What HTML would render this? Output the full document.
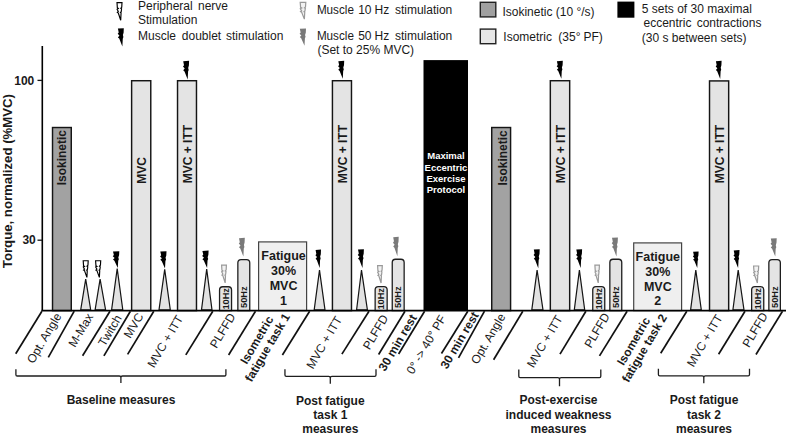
<!DOCTYPE html>
<html><head><meta charset="utf-8"><style>
html,body{margin:0;padding:0;background:#fff;}
svg{display:block;font-family:"Liberation Sans", sans-serif;}
</style></head><body>
<svg width="788" height="435" viewBox="0 0 788 435">
<rect width="788" height="435" fill="#fff"/>
<path d="M0,0 L5.8,0 L5.5,5.0 L4.4,6.0 L5.3,6.6 L4.9,9.6 L4.0,10.4 L4.7,10.9 L4.3,18.5 L1.5,10.9 L0.4,10.3 L1.5,9.3 L0.1,7.0 L1.6,6.2 L0.4,5.4 Z" transform="translate(117.00,2.60) scale(0.862,0.951)" fill="#fff" stroke="#000" stroke-width="1.15" vector-effect="non-scaling-stroke" stroke-linejoin="miter"/>
<text y="10.20" font-size="12" font-weight="400" fill="#1a1a1a"><tspan x="138.00">Peripheral</tspan><tspan x="198.00">nerve</tspan></text>
<text x="138.00" y="24.00" font-size="12" font-weight="400" text-anchor="start" fill="#1a1a1a">Stimulation</text>
<path d="M0,0.4 L5.8,0 L5.6,4.6 L4.9,7.0 L5.4,9.0 L4.8,10.6 L4.4,18.5 L1.3,10.5 L0.0,9.3 L1.5,7.5 L-0.2,5.7 L0.8,4.3 Z" transform="translate(117.90,28.20) scale(1.017,0.989)" fill="#000"/>
<text y="40.00" font-size="12" font-weight="400" fill="#1a1a1a"><tspan x="138.00">Muscle</tspan><tspan x="181.80">doublet</tspan><tspan x="226.00">stimulation</tspan></text>
<path d="M0,0 L5.8,0 L5.5,5.0 L4.4,6.0 L5.3,6.6 L4.9,9.6 L4.0,10.4 L4.7,10.9 L4.3,18.5 L1.5,10.9 L0.4,10.3 L1.5,9.3 L0.1,7.0 L1.6,6.2 L0.4,5.4 Z" transform="translate(300.20,2.40) scale(0.966,0.903)" fill="#f2f2f2" stroke="#999" stroke-width="1.2" vector-effect="non-scaling-stroke"/>
<text y="13.70" font-size="12" font-weight="400" fill="#1a1a1a"><tspan x="316.90" textLength="37.0" lengthAdjust="spacingAndGlyphs">Muscle</tspan><tspan x="358.20">10</tspan><tspan x="374.60">Hz</tspan><tspan x="394.90">stimulation</tspan></text>
<path d="M0,0.4 L5.8,0 L5.6,4.6 L4.9,7.0 L5.4,9.0 L4.8,10.6 L4.4,18.5 L1.3,10.5 L0.0,9.3 L1.5,7.5 L-0.2,5.7 L0.8,4.3 Z" transform="translate(299.80,28.40) scale(1.069,0.935)" fill="#7a7a7a"/>
<text y="40.10" font-size="12" font-weight="400" fill="#1a1a1a"><tspan x="316.90" textLength="37.0" lengthAdjust="spacingAndGlyphs">Muscle</tspan><tspan x="358.20">50</tspan><tspan x="374.60">Hz</tspan><tspan x="394.90">stimulation</tspan></text>
<text x="317.40" y="54.40" font-size="12" font-weight="400" text-anchor="start" fill="#1a1a1a">(Set to 25% MVC)</text>
<rect x="480.3" y="2.3" width="15.5" height="14.6" fill="#a0a0a0" stroke="#222" stroke-width="1.4"/>
<text x="502.40" y="16.10" font-size="12" font-weight="400" text-anchor="start" fill="#1a1a1a">Isokinetic (10 °/s)</text>
<rect x="480.3" y="29.1" width="15.5" height="14.6" fill="#e6e6e6" stroke="#222" stroke-width="1.4"/>
<text y="40.80" font-size="12" font-weight="400" fill="#1a1a1a"><tspan x="503.30">Isometric</tspan><tspan x="558.30">(35°</tspan><tspan x="583.40">PF)</tspan></text>
<rect x="617.4" y="1.6" width="17" height="16.1" fill="#000"/>
<text x="641.80" y="12.60" font-size="12" font-weight="400" text-anchor="start" fill="#1a1a1a">5 sets of 30 maximal</text>
<text y="27.20" font-size="12" font-weight="400" fill="#1a1a1a"><tspan x="643.50">eccentric</tspan><tspan x="696.70">contractions</tspan></text>
<text x="641.80" y="41.60" font-size="12" font-weight="400" text-anchor="start" fill="#1a1a1a">(30 s between sets)</text>
<line x1="42.30" y1="45.90" x2="42.30" y2="311.00" stroke="#000" stroke-width="1.6"/>
<line x1="37.50" y1="80.40" x2="42.10" y2="80.40" stroke="#151515" stroke-width="1.3"/>
<line x1="37.50" y1="240.20" x2="42.10" y2="240.20" stroke="#151515" stroke-width="1.3"/>
<text x="34.30" y="85.00" font-size="12" font-weight="700" text-anchor="end" fill="#1a1a1a">100</text>
<text x="35.80" y="243.80" font-size="12" font-weight="700" text-anchor="end" fill="#1a1a1a">30</text>
<text x="11.60" y="181.10" font-size="13.2" font-weight="700" text-anchor="middle" fill="#1a1a1a" transform="rotate(-90 11.60 181.10)">Torque, normalized (%MVC)</text>
<rect x="52.52" y="127.52" width="18.75" height="183.08" fill="#a2a2a2" stroke="#151515" stroke-width="1.45"/>
<rect x="131.62" y="80.72" width="19.15" height="229.88" fill="#e4e4e4" stroke="#151515" stroke-width="1.45"/>
<rect x="177.53" y="80.72" width="18.95" height="229.88" fill="#e4e4e4" stroke="#151515" stroke-width="1.45"/>
<rect x="332.43" y="80.72" width="19.05" height="229.88" fill="#e4e4e4" stroke="#151515" stroke-width="1.45"/>
<rect x="423.5" y="60.1" width="44.5" height="250.50" fill="#000"/>
<rect x="491.73" y="127.52" width="18.85" height="183.08" fill="#a2a2a2" stroke="#151515" stroke-width="1.45"/>
<rect x="550.33" y="80.72" width="19.35" height="229.88" fill="#e4e4e4" stroke="#151515" stroke-width="1.45"/>
<rect x="709.52" y="80.92" width="19.15" height="229.68" fill="#e4e4e4" stroke="#151515" stroke-width="1.45"/>
<rect x="258.60" y="241.90" width="48.00" height="68.70" fill="#efefef" stroke="#444" stroke-width="1.2"/>
<rect x="633.70" y="242.90" width="47.90" height="67.70" fill="#efefef" stroke="#444" stroke-width="1.2"/>
<path d="M219.55,310.6 L219.55,289.95 Q219.55,286.75 222.75,286.75 L228.35,286.75 Q231.55,286.75 231.55,289.95 L231.55,310.6 Z" fill="#e4e4e4" stroke="#1e1e1e" stroke-width="1.3"/>
<path d="M375.15,310.6 L375.15,289.85 Q375.15,286.65 378.35,286.65 L383.95,286.65 Q387.15,286.65 387.15,289.85 L387.15,310.6 Z" fill="#e4e4e4" stroke="#1e1e1e" stroke-width="1.3"/>
<path d="M592.75,310.6 L592.75,289.85 Q592.75,286.65 595.95,286.65 L601.55,286.65 Q604.75,286.65 604.75,289.85 L604.75,310.6 Z" fill="#e4e4e4" stroke="#1e1e1e" stroke-width="1.3"/>
<path d="M751.65,310.6 L751.65,289.85 Q751.65,286.65 754.85,286.65 L760.55,286.65 Q763.75,286.65 763.75,289.85 L763.75,310.6 Z" fill="#e4e4e4" stroke="#1e1e1e" stroke-width="1.3"/>
<path d="M237.85,310.6 L237.85,262.85 Q237.85,259.65 241.05,259.65 L246.55,259.65 Q249.75,259.65 249.75,262.85 L249.75,310.6 Z" fill="#e4e4e4" stroke="#1e1e1e" stroke-width="1.3"/>
<path d="M392.25,310.6 L392.25,262.45 Q392.25,259.25 395.45,259.25 L400.95,259.25 Q404.15,259.25 404.15,262.45 L404.15,310.6 Z" fill="#e4e4e4" stroke="#1e1e1e" stroke-width="1.3"/>
<path d="M609.85,310.6 L609.85,262.45 Q609.85,259.25 613.05,259.25 L618.55,259.25 Q621.75,259.25 621.75,262.45 L621.75,310.6 Z" fill="#e4e4e4" stroke="#1e1e1e" stroke-width="1.3"/>
<path d="M768.85,310.6 L768.85,262.85 Q768.85,259.65 772.05,259.65 L777.15,259.65 Q780.35,259.65 780.35,262.85 L780.35,310.6 Z" fill="#e4e4e4" stroke="#1e1e1e" stroke-width="1.3"/>
<path d="M80.70,309.8 L85.70,279.10 L90.70,309.8 Z" fill="#e2e2e2" stroke="#151515" stroke-width="1.2" stroke-linejoin="miter"/>
<path d="M95.10,309.8 L100.10,279.10 L105.60,309.8 Z" fill="#e2e2e2" stroke="#151515" stroke-width="1.2" stroke-linejoin="miter"/>
<path d="M111.60,309.8 L117.20,268.70 L122.80,309.8 Z" fill="#e2e2e2" stroke="#151515" stroke-width="1.2" stroke-linejoin="miter"/>
<path d="M159.00,309.8 L164.70,269.30 L170.30,309.8 Z" fill="#e2e2e2" stroke="#151515" stroke-width="1.2" stroke-linejoin="miter"/>
<path d="M201.50,309.8 L206.70,269.10 L212.00,309.8 Z" fill="#e2e2e2" stroke="#151515" stroke-width="1.2" stroke-linejoin="miter"/>
<path d="M314.20,309.8 L319.50,270.10 L325.00,309.8 Z" fill="#e2e2e2" stroke="#151515" stroke-width="1.2" stroke-linejoin="miter"/>
<path d="M356.60,309.8 L361.50,270.10 L367.40,309.8 Z" fill="#e2e2e2" stroke="#151515" stroke-width="1.2" stroke-linejoin="miter"/>
<path d="M531.80,309.8 L537.10,270.10 L543.00,309.8 Z" fill="#e2e2e2" stroke="#151515" stroke-width="1.2" stroke-linejoin="miter"/>
<path d="M574.30,309.8 L579.40,270.10 L584.70,309.8 Z" fill="#e2e2e2" stroke="#151515" stroke-width="1.2" stroke-linejoin="miter"/>
<path d="M690.60,309.8 L695.80,270.10 L701.30,309.8 Z" fill="#e2e2e2" stroke="#151515" stroke-width="1.2" stroke-linejoin="miter"/>
<path d="M732.90,309.8 L738.20,270.10 L744.00,309.8 Z" fill="#e2e2e2" stroke="#151515" stroke-width="1.2" stroke-linejoin="miter"/>
<line x1="41.50" y1="310.60" x2="786.00" y2="310.60" stroke="#000" stroke-width="1.9"/>
<path d="M0,0 L5.8,0 L5.5,5.0 L4.4,6.0 L5.3,6.6 L4.9,9.6 L4.0,10.4 L4.7,10.9 L4.3,18.5 L1.5,10.9 L0.4,10.3 L1.5,9.3 L0.1,7.0 L1.6,6.2 L0.4,5.4 Z" transform="translate(83.20,260.80) scale(0.862,0.897)" fill="#fff" stroke="#000" stroke-width="1.15" vector-effect="non-scaling-stroke" stroke-linejoin="miter"/>
<path d="M0,0 L5.8,0 L5.5,5.0 L4.4,6.0 L5.3,6.6 L4.9,9.6 L4.0,10.4 L4.7,10.9 L4.3,18.5 L1.5,10.9 L0.4,10.3 L1.5,9.3 L0.1,7.0 L1.6,6.2 L0.4,5.4 Z" transform="translate(95.60,260.80) scale(0.879,0.897)" fill="#fff" stroke="#000" stroke-width="1.15" vector-effect="non-scaling-stroke" stroke-linejoin="miter"/>
<path d="M0,0.4 L5.8,0 L5.6,4.6 L4.9,7.0 L5.4,9.0 L4.8,10.6 L4.4,18.5 L1.3,10.5 L0.0,9.3 L1.5,7.5 L-0.2,5.7 L0.8,4.3 Z" transform="translate(113.00,251.20) scale(1.086,0.903)" fill="#000"/>
<path d="M0,0.4 L5.8,0 L5.6,4.6 L4.9,7.0 L5.4,9.0 L4.8,10.6 L4.4,18.5 L1.3,10.5 L0.0,9.3 L1.5,7.5 L-0.2,5.7 L0.8,4.3 Z" transform="translate(160.30,251.20) scale(1.069,0.930)" fill="#000"/>
<path d="M0,0.4 L5.8,0 L5.6,4.6 L4.9,7.0 L5.4,9.0 L4.8,10.6 L4.4,18.5 L1.3,10.5 L0.0,9.3 L1.5,7.5 L-0.2,5.7 L0.8,4.3 Z" transform="translate(183.20,60.80) scale(1.017,1.016)" fill="#000"/>
<path d="M0,0.4 L5.8,0 L5.6,4.6 L4.9,7.0 L5.4,9.0 L4.8,10.6 L4.4,18.5 L1.3,10.5 L0.0,9.3 L1.5,7.5 L-0.2,5.7 L0.8,4.3 Z" transform="translate(202.40,250.50) scale(1.069,0.951)" fill="#000"/>
<path d="M0,0 L5.8,0 L5.5,5.0 L4.4,6.0 L5.3,6.6 L4.9,9.6 L4.0,10.4 L4.7,10.9 L4.3,18.5 L1.5,10.9 L0.4,10.3 L1.5,9.3 L0.1,7.0 L1.6,6.2 L0.4,5.4 Z" transform="translate(221.60,265.10) scale(0.828,0.962)" fill="#f2f2f2" stroke="#999" stroke-width="1.2" vector-effect="non-scaling-stroke"/>
<path d="M0,0.4 L5.8,0 L5.6,4.6 L4.9,7.0 L5.4,9.0 L4.8,10.6 L4.4,18.5 L1.3,10.5 L0.0,9.3 L1.5,7.5 L-0.2,5.7 L0.8,4.3 Z" transform="translate(239.00,237.80) scale(1.000,1.016)" fill="#7a7a7a"/>
<path d="M0,0.4 L5.8,0 L5.6,4.6 L4.9,7.0 L5.4,9.0 L4.8,10.6 L4.4,18.5 L1.3,10.5 L0.0,9.3 L1.5,7.5 L-0.2,5.7 L0.8,4.3 Z" transform="translate(315.60,249.60) scale(0.931,0.995)" fill="#000"/>
<path d="M0,0.4 L5.8,0 L5.6,4.6 L4.9,7.0 L5.4,9.0 L4.8,10.6 L4.4,18.5 L1.3,10.5 L0.0,9.3 L1.5,7.5 L-0.2,5.7 L0.8,4.3 Z" transform="translate(338.30,60.80) scale(1.017,0.968)" fill="#000"/>
<path d="M0,0.4 L5.8,0 L5.6,4.6 L4.9,7.0 L5.4,9.0 L4.8,10.6 L4.4,18.5 L1.3,10.5 L0.0,9.3 L1.5,7.5 L-0.2,5.7 L0.8,4.3 Z" transform="translate(358.00,249.20) scale(1.017,1.016)" fill="#000"/>
<path d="M0,0 L5.8,0 L5.5,5.0 L4.4,6.0 L5.3,6.6 L4.9,9.6 L4.0,10.4 L4.7,10.9 L4.3,18.5 L1.5,10.9 L0.4,10.3 L1.5,9.3 L0.1,7.0 L1.6,6.2 L0.4,5.4 Z" transform="translate(377.60,265.60) scale(0.810,0.941)" fill="#f2f2f2" stroke="#999" stroke-width="1.2" vector-effect="non-scaling-stroke"/>
<path d="M0,0.4 L5.8,0 L5.6,4.6 L4.9,7.0 L5.4,9.0 L4.8,10.6 L4.4,18.5 L1.3,10.5 L0.0,9.3 L1.5,7.5 L-0.2,5.7 L0.8,4.3 Z" transform="translate(393.20,236.80) scale(0.948,1.049)" fill="#7a7a7a"/>
<path d="M0,0.4 L5.8,0 L5.6,4.6 L4.9,7.0 L5.4,9.0 L4.8,10.6 L4.4,18.5 L1.3,10.5 L0.0,9.3 L1.5,7.5 L-0.2,5.7 L0.8,4.3 Z" transform="translate(533.80,249.20) scale(1.017,1.027)" fill="#000"/>
<path d="M0,0.4 L5.8,0 L5.6,4.6 L4.9,7.0 L5.4,9.0 L4.8,10.6 L4.4,18.5 L1.3,10.5 L0.0,9.3 L1.5,7.5 L-0.2,5.7 L0.8,4.3 Z" transform="translate(556.90,60.80) scale(1.017,0.968)" fill="#000"/>
<path d="M0,0.4 L5.8,0 L5.6,4.6 L4.9,7.0 L5.4,9.0 L4.8,10.6 L4.4,18.5 L1.3,10.5 L0.0,9.3 L1.5,7.5 L-0.2,5.7 L0.8,4.3 Z" transform="translate(576.30,249.20) scale(1.000,1.016)" fill="#000"/>
<path d="M0,0 L5.8,0 L5.5,5.0 L4.4,6.0 L5.3,6.6 L4.9,9.6 L4.0,10.4 L4.7,10.9 L4.3,18.5 L1.5,10.9 L0.4,10.3 L1.5,9.3 L0.1,7.0 L1.6,6.2 L0.4,5.4 Z" transform="translate(594.90,265.20) scale(0.776,0.957)" fill="#f2f2f2" stroke="#999" stroke-width="1.2" vector-effect="non-scaling-stroke"/>
<path d="M0,0.4 L5.8,0 L5.6,4.6 L4.9,7.0 L5.4,9.0 L4.8,10.6 L4.4,18.5 L1.3,10.5 L0.0,9.3 L1.5,7.5 L-0.2,5.7 L0.8,4.3 Z" transform="translate(612.00,237.40) scale(1.017,1.038)" fill="#7a7a7a"/>
<path d="M0,0.4 L5.8,0 L5.6,4.6 L4.9,7.0 L5.4,9.0 L4.8,10.6 L4.4,18.5 L1.3,10.5 L0.0,9.3 L1.5,7.5 L-0.2,5.7 L0.8,4.3 Z" transform="translate(693.10,251.50) scale(0.948,0.892)" fill="#000"/>
<path d="M0,0.4 L5.8,0 L5.6,4.6 L4.9,7.0 L5.4,9.0 L4.8,10.6 L4.4,18.5 L1.3,10.5 L0.0,9.3 L1.5,7.5 L-0.2,5.7 L0.8,4.3 Z" transform="translate(715.90,60.80) scale(0.983,0.989)" fill="#000"/>
<path d="M0,0.4 L5.8,0 L5.6,4.6 L4.9,7.0 L5.4,9.0 L4.8,10.6 L4.4,18.5 L1.3,10.5 L0.0,9.3 L1.5,7.5 L-0.2,5.7 L0.8,4.3 Z" transform="translate(733.70,250.00) scale(1.000,0.973)" fill="#000"/>
<path d="M0,0 L5.8,0 L5.5,5.0 L4.4,6.0 L5.3,6.6 L4.9,9.6 L4.0,10.4 L4.7,10.9 L4.3,18.5 L1.5,10.9 L0.4,10.3 L1.5,9.3 L0.1,7.0 L1.6,6.2 L0.4,5.4 Z" transform="translate(753.60,266.00) scale(0.879,0.919)" fill="#f2f2f2" stroke="#999" stroke-width="1.2" vector-effect="non-scaling-stroke"/>
<path d="M0,0.4 L5.8,0 L5.6,4.6 L4.9,7.0 L5.4,9.0 L4.8,10.6 L4.4,18.5 L1.3,10.5 L0.0,9.3 L1.5,7.5 L-0.2,5.7 L0.8,4.3 Z" transform="translate(770.80,238.20) scale(1.017,0.995)" fill="#7a7a7a"/>
<text x="65.60" y="185.30" font-size="12" font-weight="700" text-anchor="start" fill="#1a1a1a" transform="rotate(-90 65.60 185.30)">Isokinetic</text>
<text x="506.80" y="185.60" font-size="12" font-weight="700" text-anchor="start" fill="#1a1a1a" transform="rotate(-90 506.80 185.60)">Isokinetic</text>
<text x="146.30" y="183.80" font-size="12" font-weight="700" text-anchor="start" fill="#1a1a1a" transform="rotate(-90 146.30 183.80)">MVC</text>
<text x="192.50" y="183.30" font-size="12" font-weight="700" text-anchor="start" fill="#1a1a1a" transform="rotate(-90 192.50 183.30)">MVC + ITT</text>
<text x="347.40" y="183.30" font-size="12" font-weight="700" text-anchor="start" fill="#1a1a1a" transform="rotate(-90 347.40 183.30)">MVC + ITT</text>
<text x="565.30" y="183.30" font-size="12" font-weight="700" text-anchor="start" fill="#1a1a1a" transform="rotate(-90 565.30 183.30)">MVC + ITT</text>
<text x="724.50" y="183.30" font-size="12" font-weight="700" text-anchor="start" fill="#1a1a1a" transform="rotate(-90 724.50 183.30)">MVC + ITT</text>
<text x="228.80" y="309.60" font-size="9.6" font-weight="700" text-anchor="start" fill="#1a1a1a" transform="rotate(-90 228.80 309.60)" textLength="21.6" lengthAdjust="spacingAndGlyphs">10Hz</text>
<text x="384.40" y="309.60" font-size="9.6" font-weight="700" text-anchor="start" fill="#1a1a1a" transform="rotate(-90 384.40 309.60)" textLength="21.6" lengthAdjust="spacingAndGlyphs">10Hz</text>
<text x="602.00" y="309.60" font-size="9.6" font-weight="700" text-anchor="start" fill="#1a1a1a" transform="rotate(-90 602.00 309.60)" textLength="21.6" lengthAdjust="spacingAndGlyphs">10Hz</text>
<text x="760.90" y="309.60" font-size="9.6" font-weight="700" text-anchor="start" fill="#1a1a1a" transform="rotate(-90 760.90 309.60)" textLength="21.6" lengthAdjust="spacingAndGlyphs">10Hz</text>
<text x="246.70" y="308.00" font-size="9.6" font-weight="700" text-anchor="start" fill="#1a1a1a" transform="rotate(-90 246.70 308.00)" textLength="21.6" lengthAdjust="spacingAndGlyphs">50Hz</text>
<text x="401.10" y="308.00" font-size="9.6" font-weight="700" text-anchor="start" fill="#1a1a1a" transform="rotate(-90 401.10 308.00)" textLength="21.6" lengthAdjust="spacingAndGlyphs">50Hz</text>
<text x="618.70" y="308.00" font-size="9.6" font-weight="700" text-anchor="start" fill="#1a1a1a" transform="rotate(-90 618.70 308.00)" textLength="21.6" lengthAdjust="spacingAndGlyphs">50Hz</text>
<text x="777.70" y="308.00" font-size="9.6" font-weight="700" text-anchor="start" fill="#1a1a1a" transform="rotate(-90 777.70 308.00)" textLength="21.6" lengthAdjust="spacingAndGlyphs">50Hz</text>
<text x="446.00" y="159.30" font-size="9.5" font-weight="700" text-anchor="middle" fill="#fff">Maximal</text>
<text x="446.00" y="170.60" font-size="9.5" font-weight="700" text-anchor="middle" fill="#fff">Eccentric</text>
<text x="446.00" y="182.00" font-size="9.5" font-weight="700" text-anchor="middle" fill="#fff">Exercise</text>
<text x="446.00" y="193.10" font-size="9.5" font-weight="700" text-anchor="middle" fill="#fff">Protocol</text>
<text x="283.60" y="260.40" font-size="12.5" font-weight="700" text-anchor="middle" fill="#1a1a1a">Fatigue</text>
<text x="283.60" y="275.40" font-size="12.5" font-weight="700" text-anchor="middle" fill="#1a1a1a">30%</text>
<text x="283.60" y="289.90" font-size="12.5" font-weight="700" text-anchor="middle" fill="#1a1a1a">MVC</text>
<text x="283.60" y="304.80" font-size="12.5" font-weight="700" text-anchor="middle" fill="#1a1a1a">1</text>
<text x="657.80" y="261.00" font-size="12.5" font-weight="700" text-anchor="middle" fill="#1a1a1a">Fatigue</text>
<text x="657.80" y="276.00" font-size="12.5" font-weight="700" text-anchor="middle" fill="#1a1a1a">30%</text>
<text x="657.80" y="290.50" font-size="12.5" font-weight="700" text-anchor="middle" fill="#1a1a1a">MVC</text>
<text x="657.80" y="305.40" font-size="12.5" font-weight="700" text-anchor="middle" fill="#1a1a1a">2</text>
<line x1="41.90" y1="311.20" x2="15.70" y2="353.80" stroke="#111" stroke-width="1.7"/>
<line x1="74.20" y1="311.20" x2="48.30" y2="357.40" stroke="#111" stroke-width="1.7"/>
<line x1="110.00" y1="311.20" x2="82.60" y2="355.70" stroke="#111" stroke-width="1.7"/>
<line x1="130.40" y1="311.20" x2="103.90" y2="355.90" stroke="#111" stroke-width="1.7"/>
<line x1="153.80" y1="311.20" x2="127.60" y2="354.40" stroke="#111" stroke-width="1.7"/>
<line x1="212.80" y1="311.20" x2="185.80" y2="354.90" stroke="#111" stroke-width="1.7"/>
<line x1="255.50" y1="311.20" x2="228.60" y2="355.00" stroke="#111" stroke-width="1.7"/>
<line x1="309.60" y1="311.20" x2="282.40" y2="355.00" stroke="#111" stroke-width="1.7"/>
<line x1="369.00" y1="311.20" x2="341.90" y2="354.10" stroke="#111" stroke-width="1.7"/>
<line x1="405.00" y1="311.20" x2="378.60" y2="354.50" stroke="#111" stroke-width="1.7"/>
<line x1="424.60" y1="311.20" x2="398.60" y2="354.00" stroke="#111" stroke-width="1.7"/>
<line x1="467.80" y1="311.20" x2="441.50" y2="353.50" stroke="#111" stroke-width="1.7"/>
<line x1="484.50" y1="311.20" x2="458.50" y2="357.80" stroke="#111" stroke-width="1.7"/>
<line x1="522.80" y1="311.20" x2="493.60" y2="359.80" stroke="#111" stroke-width="1.7"/>
<line x1="585.90" y1="311.20" x2="560.00" y2="354.10" stroke="#111" stroke-width="1.7"/>
<line x1="627.10" y1="311.20" x2="599.50" y2="355.90" stroke="#111" stroke-width="1.7"/>
<line x1="686.80" y1="311.20" x2="660.70" y2="353.30" stroke="#111" stroke-width="1.7"/>
<line x1="745.00" y1="311.20" x2="718.60" y2="354.30" stroke="#111" stroke-width="1.7"/>
<line x1="782.50" y1="311.20" x2="756.00" y2="354.50" stroke="#111" stroke-width="1.7"/>
<text x="61.90" y="315.90" font-size="12" font-weight="400" text-anchor="end" fill="#1a1a1a" transform="rotate(-59.5 61.90 315.90)">Opt. Angle</text>
<text x="93.60" y="316.50" font-size="12" font-weight="400" text-anchor="end" fill="#1a1a1a" transform="rotate(-59.5 93.60 316.50)">M-Max</text>
<text x="122.10" y="317.90" font-size="12" font-weight="400" text-anchor="end" fill="#1a1a1a" transform="rotate(-59.5 122.10 317.90)">Twitch</text>
<text x="143.90" y="316.00" font-size="12" font-weight="400" text-anchor="end" fill="#1a1a1a" transform="rotate(-59.5 143.90 316.00)">MVC</text>
<text x="183.60" y="318.30" font-size="12" font-weight="400" text-anchor="end" fill="#1a1a1a" transform="rotate(-59.5 183.60 318.30)">MVC + ITT</text>
<text x="235.80" y="316.20" font-size="12" font-weight="400" text-anchor="end" fill="#1a1a1a" transform="rotate(-59.5 235.80 316.20)">PLFFD</text>
<text x="273.80" y="319.10" font-size="12" font-weight="700" text-anchor="end" fill="#1a1a1a" transform="rotate(-59.5 273.80 319.10)">Isometric</text>
<text x="290.40" y="316.60" font-size="12" font-weight="700" text-anchor="end" fill="#1a1a1a" transform="rotate(-59.5 290.40 316.60)">fatigue task 1</text>
<text x="342.50" y="319.40" font-size="12" font-weight="400" text-anchor="end" fill="#1a1a1a" transform="rotate(-59.5 342.50 319.40)">MVC + ITT</text>
<text x="388.70" y="317.70" font-size="12" font-weight="400" text-anchor="end" fill="#1a1a1a" transform="rotate(-59.5 388.70 317.70)">PLFFD</text>
<text x="417.20" y="317.50" font-size="12" font-weight="700" text-anchor="end" fill="#1a1a1a" transform="rotate(-59.5 417.20 317.50)">30 min rest</text>
<text x="446.50" y="318.10" font-size="12" font-weight="400" text-anchor="end" fill="#1a1a1a" transform="rotate(-59.5 446.50 318.10)">0° -&gt; 40° PF</text>
<text x="479.10" y="315.10" font-size="12" font-weight="700" text-anchor="end" fill="#1a1a1a" transform="rotate(-59.5 479.10 315.10)">30 min rest</text>
<text x="506.00" y="316.60" font-size="12" font-weight="400" text-anchor="end" fill="#1a1a1a" transform="rotate(-59.5 506.00 316.60)">Opt. Angle</text>
<text x="563.10" y="318.30" font-size="12" font-weight="400" text-anchor="end" fill="#1a1a1a" transform="rotate(-59.5 563.10 318.30)">MVC + ITT</text>
<text x="610.20" y="316.00" font-size="12" font-weight="400" text-anchor="end" fill="#1a1a1a" transform="rotate(-59.5 610.20 316.00)">PLFFD</text>
<text x="650.70" y="320.30" font-size="12" font-weight="700" text-anchor="end" fill="#1a1a1a" transform="rotate(-59.5 650.70 320.30)">Isometric</text>
<text x="667.40" y="317.20" font-size="12" font-weight="700" text-anchor="end" fill="#1a1a1a" transform="rotate(-59.5 667.40 317.20)">fatigue task 2</text>
<text x="723.00" y="317.60" font-size="12" font-weight="400" text-anchor="end" fill="#1a1a1a" transform="rotate(-59.5 723.00 317.60)">MVC + ITT</text>
<text x="768.20" y="315.40" font-size="12" font-weight="400" text-anchor="end" fill="#1a1a1a" transform="rotate(-59.5 768.20 315.40)">PLFFD</text>
<path d="M15.9,369.2 L15.9,374.7 Q15.9,376.0 17.2,376.0 L119.30000000000001,376.0 Q120.9,376.0 120.9,377.6 L120.9,382.9 M120.9,377.6 Q120.9,376.0 122.5,376.0 L224.6,376.0 Q225.9,376.0 225.9,374.7 L225.9,369.2" fill="none" stroke="#1e1e1e" stroke-width="1.3"/>
<path d="M284.95,369.2 L284.95,375.0 Q284.95,376.3 286.25,376.3 L328.7,376.3 Q330.3,376.3 330.3,377.90000000000003 L330.3,383.7 M330.3,377.90000000000003 Q330.3,376.3 331.90000000000003,376.3 L374.7,376.3 Q376.0,376.3 376.0,375.0 L376.0,369.2" fill="none" stroke="#1e1e1e" stroke-width="1.3"/>
<path d="M518.8,369.6 L518.8,376.3 Q518.8,377.6 520.0999999999999,377.6 L557.9,377.6 Q559.5,377.6 559.5,379.20000000000005 L559.5,386.2 M559.5,379.20000000000005 Q559.5,377.6 561.1,377.6 L599.5,377.6 Q600.8,377.6 600.8,376.3 L600.8,369.6" fill="none" stroke="#1e1e1e" stroke-width="1.3"/>
<path d="M658.4,368.8 L658.4,374.5 Q658.4,375.8 659.6999999999999,375.8 L702.1999999999999,375.8 Q703.8,375.8 703.8,377.40000000000003 L703.8,383.2 M703.8,377.40000000000003 Q703.8,375.8 705.4,375.8 L748.2,375.8 Q749.5,375.8 749.5,374.5 L749.5,368.8" fill="none" stroke="#1e1e1e" stroke-width="1.3"/>
<text x="121.00" y="404.30" font-size="12" font-weight="700" text-anchor="middle" fill="#1a1a1a">Baseline measures</text>
<text x="330.30" y="404.60" font-size="12" font-weight="700" text-anchor="middle" fill="#1a1a1a">Post fatigue</text>
<text x="330.30" y="418.80" font-size="12" font-weight="700" text-anchor="middle" fill="#1a1a1a">task 1</text>
<text x="330.30" y="433.00" font-size="12" font-weight="700" text-anchor="middle" fill="#1a1a1a">measures</text>
<text x="558.50" y="404.00" font-size="12" font-weight="700" text-anchor="middle" fill="#1a1a1a">Post-exercise</text>
<text x="558.50" y="418.60" font-size="12" font-weight="700" text-anchor="middle" fill="#1a1a1a">induced weakness</text>
<text x="558.50" y="433.00" font-size="12" font-weight="700" text-anchor="middle" fill="#1a1a1a">measures</text>
<text x="704.00" y="404.00" font-size="12" font-weight="700" text-anchor="middle" fill="#1a1a1a">Post fatigue</text>
<text x="704.00" y="418.60" font-size="12" font-weight="700" text-anchor="middle" fill="#1a1a1a">task 2</text>
<text x="704.00" y="433.00" font-size="12" font-weight="700" text-anchor="middle" fill="#1a1a1a">measures</text>
</svg>
</body></html>
